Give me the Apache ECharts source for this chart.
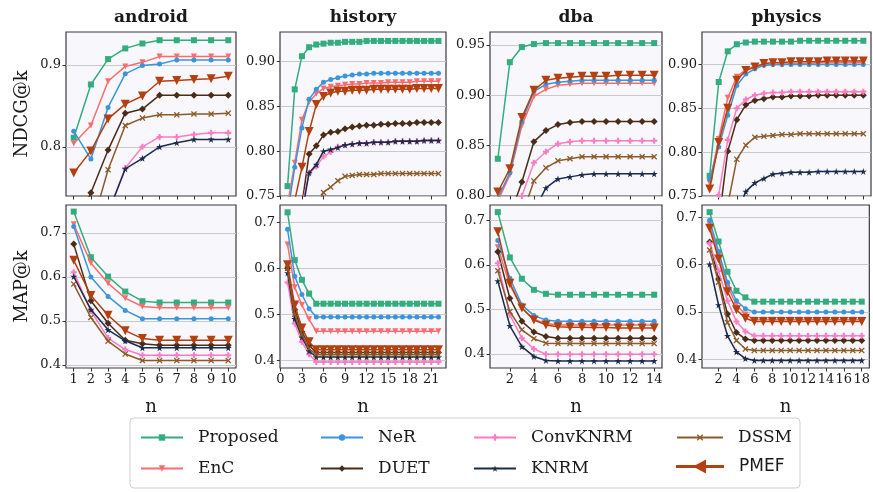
<!DOCTYPE html>
<html><head><meta charset="utf-8">
<script src="https://cdn.jsdelivr.net/npm/echarts@6/dist/echarts.min.js"></script>
<style>html,body{margin:0;padding:0;background:#fff}#c{width:873px;height:492px}</style>
</head><body><div id="c"></div>
<script>
// ---------------- DATA ----------------
const seriesNames = ['Proposed', 'EnC', 'NeR', 'DUET', 'ConvKNRM', 'KNRM', 'DSSM', 'PMEF'];
const datasetNames = ['android', 'history', 'dba', 'physics'];

const kAndroid = [1, 2, 3, 4, 5, 6, 7, 8, 9, 10];
const kHistory = [1, 2, 3, 4, 5, 6, 7, 8, 9, 10, 11, 12, 13, 14, 15, 16, 17, 18, 19, 20, 21, 22];
const kDba = [1, 2, 3, 4, 5, 6, 7, 8, 9, 10, 11, 12, 13, 14];
const kPhysics = [1, 2, 3, 4, 5, 6, 7, 8, 9, 10, 11, 12, 13, 14, 15, 16, 17, 18];

const xTicksAndroid = [1, 2, 3, 4, 5, 6, 7, 8, 9, 10];
const xTicksHistory = [0, 3, 6, 9, 12, 15, 18, 21];
const xTicksDba = [2, 4, 6, 8, 10, 12, 14];
const xTicksPhysics = [2, 4, 6, 8, 10, 12, 14, 16, 18];

const yTicksNdcgAndroid = [0.8, 0.9];
const yTicksNdcgHistory = [0.75, 0.80, 0.85, 0.90];
const yTicksNdcgDba = [0.80, 0.85, 0.90, 0.95];
const yTicksNdcgPhysics = [0.75, 0.80, 0.85, 0.90];
const yTicksMap = [0.4, 0.5, 0.6, 0.7];

// rows follow seriesNames order
const ndcgAndroid = [
  [0.811, 0.876, 0.907, 0.920, 0.926, 0.930, 0.930, 0.930, 0.930, 0.930],
  [0.804, 0.826, 0.880, 0.898, 0.903, 0.910, 0.910, 0.910, 0.910, 0.910],
  [0.819, 0.785, 0.848, 0.889, 0.899, 0.901, 0.906, 0.906, 0.906, 0.906],
  [0.700, 0.744, 0.796, 0.841, 0.846, 0.863, 0.863, 0.863, 0.863, 0.863],
  [0.670, 0.690, 0.720, 0.774, 0.800, 0.812, 0.812, 0.815, 0.817, 0.817],
  [0.665, 0.688, 0.719, 0.773, 0.786, 0.800, 0.805, 0.809, 0.809, 0.809],
  [0.680, 0.699, 0.772, 0.826, 0.835, 0.839, 0.839, 0.840, 0.840, 0.841],
  [0.768, 0.795, 0.834, 0.852, 0.862, 0.880, 0.881, 0.882, 0.883, 0.886]
];
const mapAndroid = [
  [0.749, 0.645, 0.601, 0.567, 0.545, 0.542, 0.542, 0.542, 0.542, 0.542],
  [0.720, 0.632, 0.586, 0.552, 0.533, 0.530, 0.530, 0.530, 0.530, 0.530],
  [0.715, 0.600, 0.556, 0.524, 0.505, 0.505, 0.505, 0.505, 0.505, 0.505],
  [0.675, 0.546, 0.495, 0.456, 0.448, 0.445, 0.445, 0.445, 0.445, 0.445],
  [0.611, 0.523, 0.461, 0.435, 0.422, 0.422, 0.422, 0.422, 0.422, 0.422],
  [0.601, 0.526, 0.480, 0.455, 0.439, 0.439, 0.439, 0.439, 0.439, 0.439],
  [0.584, 0.508, 0.454, 0.425, 0.410, 0.410, 0.410, 0.410, 0.410, 0.410],
  [0.638, 0.558, 0.513, 0.478, 0.460, 0.456, 0.456, 0.456, 0.456, 0.456]
];
const ndcgHistory = [
  [0.761, 0.869, 0.906, 0.916, 0.919, 0.920, 0.921, 0.921, 0.922, 0.922, 0.922, 0.923, 0.923, 0.923, 0.923, 0.923, 0.923, 0.923, 0.923, 0.923, 0.923, 0.923],
  [0.740, 0.787, 0.835, 0.855, 0.864, 0.870, 0.872, 0.873, 0.874, 0.875, 0.875, 0.876, 0.876, 0.876, 0.877, 0.877, 0.877, 0.877, 0.878, 0.878, 0.878, 0.878],
  [0.730, 0.782, 0.826, 0.858, 0.869, 0.877, 0.880, 0.882, 0.884, 0.885, 0.886, 0.886, 0.887, 0.887, 0.887, 0.887, 0.887, 0.887, 0.887, 0.887, 0.887, 0.887],
  [0.680, 0.700, 0.740, 0.797, 0.806, 0.818, 0.821, 0.822, 0.825, 0.827, 0.828, 0.829, 0.829, 0.830, 0.830, 0.831, 0.831, 0.831, 0.832, 0.832, 0.832, 0.832],
  [0.690, 0.710, 0.740, 0.775, 0.783, 0.794, 0.799, 0.805, 0.807, 0.808, 0.809, 0.809, 0.810, 0.810, 0.810, 0.811, 0.811, 0.811, 0.811, 0.812, 0.812, 0.812],
  [0.680, 0.700, 0.730, 0.776, 0.785, 0.800, 0.802, 0.804, 0.807, 0.808, 0.809, 0.809, 0.810, 0.810, 0.810, 0.811, 0.811, 0.811, 0.811, 0.812, 0.812, 0.812],
  [0.650, 0.680, 0.700, 0.720, 0.735, 0.754, 0.760, 0.767, 0.772, 0.773, 0.774, 0.774, 0.774, 0.775, 0.775, 0.775, 0.775, 0.775, 0.775, 0.775, 0.775, 0.775],
  [0.710, 0.745, 0.782, 0.822, 0.852, 0.861, 0.865, 0.867, 0.867, 0.868, 0.868, 0.868, 0.869, 0.869, 0.869, 0.869, 0.869, 0.869, 0.870, 0.870, 0.870, 0.870]
];
const mapHistory = [
  [0.722, 0.618, 0.575, 0.545, 0.523, 0.523, 0.523, 0.523, 0.523, 0.523, 0.523, 0.523, 0.523, 0.523, 0.523, 0.523, 0.523, 0.523, 0.523, 0.523, 0.523, 0.523],
  [0.652, 0.559, 0.520, 0.489, 0.463, 0.463, 0.463, 0.463, 0.463, 0.463, 0.463, 0.463, 0.463, 0.463, 0.463, 0.463, 0.463, 0.463, 0.463, 0.463, 0.463, 0.463],
  [0.685, 0.583, 0.543, 0.512, 0.494, 0.494, 0.494, 0.494, 0.494, 0.494, 0.494, 0.494, 0.494, 0.494, 0.494, 0.494, 0.494, 0.494, 0.494, 0.494, 0.494, 0.494],
  [0.600, 0.510, 0.462, 0.432, 0.417, 0.417, 0.417, 0.417, 0.417, 0.417, 0.417, 0.417, 0.417, 0.417, 0.417, 0.417, 0.417, 0.417, 0.417, 0.417, 0.417, 0.417],
  [0.569, 0.480, 0.440, 0.413, 0.396, 0.396, 0.396, 0.396, 0.396, 0.396, 0.396, 0.396, 0.396, 0.396, 0.396, 0.396, 0.396, 0.396, 0.396, 0.396, 0.396, 0.396],
  [0.590, 0.490, 0.450, 0.420, 0.407, 0.407, 0.407, 0.407, 0.407, 0.407, 0.407, 0.407, 0.407, 0.407, 0.407, 0.407, 0.407, 0.407, 0.407, 0.407, 0.407, 0.407],
  [0.600, 0.500, 0.455, 0.425, 0.412, 0.412, 0.412, 0.412, 0.412, 0.412, 0.412, 0.412, 0.412, 0.412, 0.412, 0.412, 0.412, 0.412, 0.412, 0.412, 0.412, 0.412],
  [0.608, 0.520, 0.470, 0.440, 0.423, 0.423, 0.423, 0.423, 0.423, 0.423, 0.423, 0.423, 0.423, 0.423, 0.423, 0.423, 0.423, 0.423, 0.423, 0.423, 0.423, 0.423]
];
const ndcgDba = [
  [0.837, 0.933, 0.948, 0.951, 0.952, 0.952, 0.952, 0.952, 0.952, 0.952, 0.952, 0.952, 0.952, 0.952],
  [0.795, 0.821, 0.870, 0.899, 0.906, 0.910, 0.911, 0.912, 0.912, 0.912, 0.912, 0.912, 0.912, 0.912],
  [0.798, 0.823, 0.874, 0.904, 0.911, 0.913, 0.914, 0.915, 0.915, 0.915, 0.915, 0.915, 0.915, 0.915],
  [0.740, 0.780, 0.814, 0.854, 0.865, 0.871, 0.873, 0.874, 0.874, 0.874, 0.874, 0.874, 0.874, 0.874],
  [0.740, 0.770, 0.800, 0.833, 0.844, 0.852, 0.854, 0.855, 0.855, 0.855, 0.855, 0.855, 0.855, 0.855],
  [0.700, 0.730, 0.760, 0.785, 0.808, 0.817, 0.819, 0.821, 0.822, 0.822, 0.822, 0.822, 0.822, 0.822],
  [0.720, 0.750, 0.780, 0.815, 0.828, 0.835, 0.837, 0.839, 0.839, 0.839, 0.839, 0.839, 0.839, 0.839],
  [0.804, 0.827, 0.878, 0.905, 0.915, 0.917, 0.918, 0.919, 0.919, 0.919, 0.920, 0.920, 0.920, 0.920]
];
const mapDba = [
  [0.719, 0.617, 0.569, 0.544, 0.535, 0.533, 0.533, 0.533, 0.533, 0.533, 0.533, 0.533, 0.533, 0.533],
  [0.640, 0.555, 0.503, 0.478, 0.468, 0.465, 0.465, 0.465, 0.465, 0.465, 0.465, 0.465, 0.465, 0.465],
  [0.655, 0.570, 0.510, 0.486, 0.476, 0.473, 0.473, 0.473, 0.473, 0.473, 0.473, 0.473, 0.473, 0.473],
  [0.630, 0.525, 0.473, 0.449, 0.439, 0.435, 0.435, 0.435, 0.435, 0.435, 0.435, 0.435, 0.435, 0.435],
  [0.604, 0.488, 0.435, 0.411, 0.399, 0.399, 0.399, 0.399, 0.399, 0.399, 0.399, 0.399, 0.399, 0.399],
  [0.564, 0.463, 0.416, 0.394, 0.385, 0.384, 0.384, 0.384, 0.384, 0.384, 0.384, 0.384, 0.384, 0.384],
  [0.587, 0.495, 0.454, 0.434, 0.424, 0.423, 0.423, 0.423, 0.423, 0.423, 0.423, 0.423, 0.423, 0.423],
  [0.675, 0.559, 0.503, 0.476, 0.465, 0.461, 0.460, 0.460, 0.459, 0.459, 0.458, 0.458, 0.458, 0.458]
];
const ndcgPhysics = [
  [0.773, 0.880, 0.915, 0.923, 0.925, 0.926, 0.926, 0.926, 0.926, 0.926, 0.927, 0.927, 0.927, 0.927, 0.927, 0.927, 0.927, 0.927],
  [0.765, 0.815, 0.862, 0.886, 0.894, 0.898, 0.899, 0.900, 0.900, 0.901, 0.901, 0.901, 0.902, 0.902, 0.902, 0.902, 0.902, 0.902],
  [0.769, 0.806, 0.842, 0.876, 0.889, 0.895, 0.899, 0.900, 0.900, 0.900, 0.900, 0.900, 0.900, 0.900, 0.900, 0.900, 0.900, 0.900],
  [0.680, 0.720, 0.801, 0.837, 0.854, 0.859, 0.861, 0.863, 0.863, 0.864, 0.864, 0.864, 0.865, 0.865, 0.865, 0.865, 0.865, 0.865],
  [0.700, 0.751, 0.814, 0.850, 0.860, 0.865, 0.867, 0.868, 0.868, 0.869, 0.869, 0.869, 0.869, 0.869, 0.869, 0.869, 0.869, 0.869],
  [0.650, 0.680, 0.710, 0.730, 0.755, 0.765, 0.770, 0.775, 0.776, 0.777, 0.777, 0.777, 0.778, 0.778, 0.778, 0.778, 0.778, 0.778],
  [0.650, 0.690, 0.740, 0.792, 0.808, 0.817, 0.818, 0.819, 0.820, 0.820, 0.821, 0.821, 0.821, 0.821, 0.821, 0.821, 0.821, 0.821],
  [0.758, 0.811, 0.850, 0.882, 0.893, 0.897, 0.901, 0.902, 0.902, 0.903, 0.903, 0.903, 0.903, 0.904, 0.904, 0.904, 0.904, 0.904]
];
const mapPhysics = [
  [0.711, 0.649, 0.585, 0.545, 0.531, 0.522, 0.522, 0.522, 0.522, 0.522, 0.522, 0.522, 0.522, 0.522, 0.522, 0.522, 0.522, 0.522],
  [0.685, 0.620, 0.555, 0.515, 0.495, 0.484, 0.484, 0.484, 0.484, 0.484, 0.484, 0.484, 0.484, 0.484, 0.484, 0.484, 0.484, 0.484],
  [0.694, 0.628, 0.563, 0.524, 0.507, 0.500, 0.500, 0.500, 0.500, 0.500, 0.500, 0.500, 0.500, 0.500, 0.500, 0.500, 0.500, 0.500],
  [0.648, 0.570, 0.496, 0.457, 0.443, 0.440, 0.440, 0.440, 0.440, 0.440, 0.440, 0.440, 0.440, 0.440, 0.440, 0.440, 0.440, 0.440],
  [0.645, 0.587, 0.524, 0.480, 0.459, 0.450, 0.450, 0.450, 0.450, 0.450, 0.450, 0.450, 0.450, 0.450, 0.450, 0.450, 0.450, 0.450],
  [0.601, 0.515, 0.450, 0.416, 0.402, 0.398, 0.398, 0.398, 0.398, 0.398, 0.398, 0.398, 0.398, 0.398, 0.398, 0.398, 0.398, 0.398],
  [0.631, 0.563, 0.478, 0.440, 0.422, 0.419, 0.419, 0.419, 0.419, 0.419, 0.419, 0.419, 0.419, 0.419, 0.419, 0.419, 0.419, 0.419],
  [0.677, 0.612, 0.543, 0.505, 0.487, 0.480, 0.480, 0.480, 0.480, 0.480, 0.480, 0.480, 0.480, 0.480, 0.480, 0.480, 0.480, 0.480]
];

// ---------------- STYLE / LAYOUT ----------------
const SERIF = 'DejaVu Serif';
const TXT = '#1a1a1a';
const colors = ['#33ad7e', '#fc6c6c', '#3a95dd', '#4a2c17', '#ff7cc2', '#1b2b4d', '#8b5a27', '#b5400f'];
const symbols = [
  'rect',
  'path://M0,0 L10,0 L5,9 Z',
  'circle',
  'path://M5,0 L8,5 L5,10 L2,5 Z',
  'path://M3.3,0 L6.7,0 L6.7,3.3 L10,3.3 L10,6.7 L6.7,6.7 L6.7,10 L3.3,10 L3.3,6.7 L0,6.7 L0,3.3 L3.3,3.3 Z',
  'path://M50,0 L61,35 L98,35 L68,57 L79,91 L50,70 L21,91 L32,57 L2,35 L39,35 Z',
  'path://M0,1.5 L1.5,0 L5,3.5 L8.5,0 L10,1.5 L6.5,5 L10,8.5 L8.5,10 L5,6.5 L1.5,10 L0,8.5 L3.5,5 Z',
  'path://M0,0 L10,0 L5,9 Z'
];
const symbolSizes = [6, 6, 5, 7, 6, 7, 6, 9];

const colLeft = [66, 280, 490, 702];
const colRight = [236, 446, 662, 871];
const rowTop = [32, 205];
const rowBottom = [196, 368];
const xMin = [0.55, -0.05, 0.35, 0.15];
const xMax = [10.45, 23.05, 14.65, 18.85];
const yMin = [[0.74, 0.75, 0.80, 0.75], [0.393, 0.383, 0.368, 0.382]];
const yMax = [[0.94, 0.933, 0.963, 0.937], [0.764, 0.738, 0.735, 0.726]];
const yDec = [[1, 2, 2, 2], [1, 1, 1, 1]];

const kLists = [kAndroid, kHistory, kDba, kPhysics];
const xTickLists = [xTicksAndroid, xTicksHistory, xTicksDba, xTicksPhysics];
const yTickLists = [[yTicksNdcgAndroid, yTicksNdcgHistory, yTicksNdcgDba, yTicksNdcgPhysics], [yTicksMap, yTicksMap, yTicksMap, yTicksMap]];
const values = [[ndcgAndroid, ndcgHistory, ndcgDba, ndcgPhysics], [mapAndroid, mapHistory, mapDba, mapPhysics]];
const yNames = ['NDCG@k', 'MAP@k'];

const grids = [], xAxes = [], yAxes = [], series = [];
for (let r = 0; r < 2; r++) {
  for (let c = 0; c < 4; c++) {
    const g = r * 4 + c;
    grids.push({
      left: colLeft[c], top: rowTop[r],
      width: colRight[c] - colLeft[c], height: rowBottom[r] - rowTop[r],
      show: true, backgroundColor: '#f7f7fc', borderColor: '#3a3a3a', borderWidth: 1.2, containLabel: false
    });
    xAxes.push({
      gridIndex: g, type: 'value', min: xMin[c], max: xMax[c],
      axisLine: { show: false }, splitLine: { show: false },
      axisTick: { show: true, length: 3.5, customValues: xTickLists[c], lineStyle: { color: '#333', width: 1 } },
      axisLabel: { show: r === 1, customValues: xTickLists[c], margin: 5, fontFamily: SERIF, fontSize: 13, color: TXT },
      name: r === 1 ? 'n' : '', nameLocation: 'middle', nameGap: 30,
      nameTextStyle: { fontFamily: SERIF, fontSize: 18, color: TXT }
    });
    const dec = yDec[r][c];
    yAxes.push({
      gridIndex: g, type: 'value', min: yMin[r][c], max: yMax[r][c],
      axisLine: { show: false },
      axisTick: { show: true, length: 3.5, customValues: yTickLists[r][c], lineStyle: { color: '#333', width: 1 } },
      axisLabel: { customValues: yTickLists[r][c], margin: 5, fontFamily: SERIF, fontSize: 13, color: TXT,
        formatter: v => Number(v).toFixed(dec) },
      splitLine: { show: true, lineStyle: { color: '#c9c9c9', width: 1.2 } },
      name: c === 0 ? yNames[r] : '', nameLocation: 'middle', nameGap: 35,
      nameTextStyle: { fontFamily: SERIF, fontSize: 18, color: TXT }
    });
    const ks = kLists[c];
    const vals = values[r][c];
    seriesNames.forEach((nm, si) => {
      series.push({
        type: 'line', name: nm, xAxisIndex: g, yAxisIndex: g,
        data: ks.map((k, i) => [k, vals[si][i]]),
        symbol: symbols[si], symbolSize: symbolSizes[si], showSymbol: true,
        itemStyle: { color: colors[si] },
        lineStyle: { color: colors[si], width: 1.5 },
        clip: true, z: 2 + si, animation: false, silent: true,
        emphasis: { disabled: true }
      });
    });
  }
}

// legend layout: [name, left, top, itemWidth]
const legendPos = [
  ['Proposed', 140, 429, 42], ['EnC', 140, 460, 42],
  ['NeR', 320, 429, 42], ['DUET', 320, 460, 42],
  ['ConvKNRM', 473, 429, 42], ['KNRM', 473, 460, 42],
  ['DSSM', 676, 429, 46]
];
const legends = legendPos.map(([nm, l, t, w]) => ({
  data: [nm], left: l, top: t, padding: 0, itemWidth: w, itemHeight: 8,
  selectedMode: false, lineStyle: { width: 2 },
  textStyle: { fontFamily: SERIF, fontSize: 17, color: TXT, padding: [0, 0, 0, 10] }
}));
legends.push({
  data: [{ name: 'PMEF', icon: 'path://M0,5.5 L48,5.5 L48,8.5 L0,8.5 Z M17,7 L30,0 L30,14 Z' }],
  left: 676, top: 458, padding: 0, itemWidth: 48, itemHeight: 14, selectedMode: false,
  textStyle: { fontFamily: 'DejaVu Sans', fontSize: 17, color: TXT, padding: [0, 0, 0, 10] }
});

const titleGraphics = datasetNames.map((t, c) => ({
  type: 'text', x: (colLeft[c] + colRight[c]) / 2, y: 18,
  style: { text: t, fontFamily: SERIF, fontWeight: 'bold', fontSize: 17, fill: TXT, align: 'center', verticalAlign: 'middle' }
}));

const chart = echarts.init(document.getElementById('c'), null, { renderer: 'canvas' });
chart.setOption({
  animation: false,
  backgroundColor: '#ffffff',
  grid: grids, xAxis: xAxes, yAxis: yAxes, series: series,
  legend: legends,
  graphic: [
    { type: 'rect', shape: { x: 130, y: 418, width: 670, height: 70, r: 4 }, style: { fill: '#fff', stroke: '#cfcfcf', lineWidth: 1 }, z: -1 },
    ...titleGraphics
  ]
});
</script>
</body></html>
